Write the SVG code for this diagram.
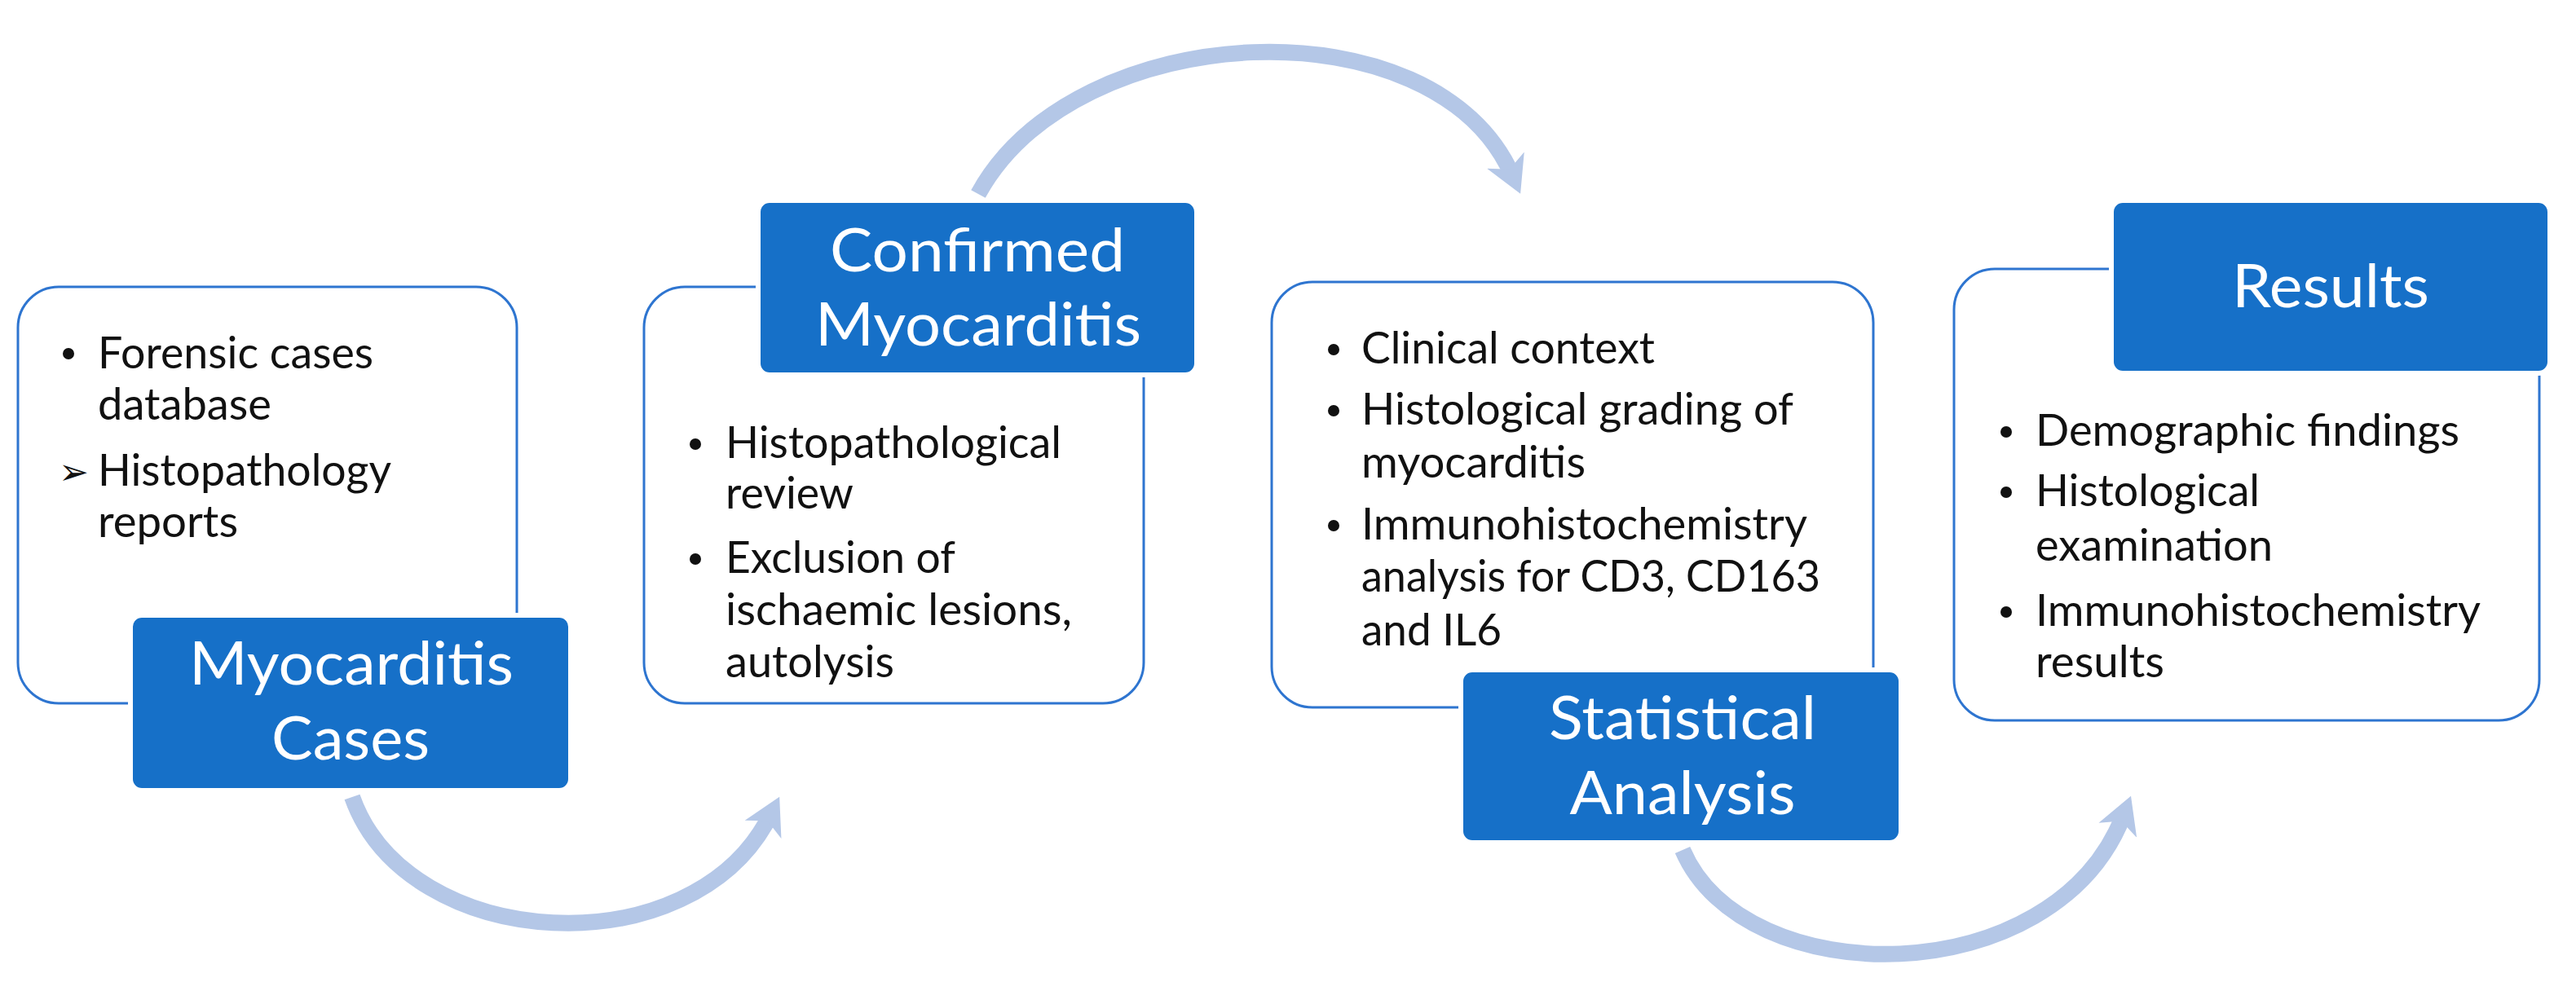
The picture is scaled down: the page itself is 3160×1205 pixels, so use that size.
<svg xmlns="http://www.w3.org/2000/svg" width="3160" height="1205" viewBox="0 0 3160 1205">
<style>
.card{fill:#fff;stroke:#2E75D0;stroke-width:3}
.hdr{fill:#1670C8;stroke:#fff;stroke-width:6}
.ht{font-family:Lato,"Liberation Sans",sans-serif;font-size:74px;fill:#fff;text-anchor:middle}
.bt{font-family:Lato,"Liberation Sans",sans-serif;font-size:54px;fill:#111}
.dot{fill:#111}
.arc{fill:none;stroke:#B4C7E7;stroke-width:20}
</style>
<defs>
<marker id="ah" markerUnits="userSpaceOnUse" markerWidth="60" markerHeight="60" refX="20" refY="25" orient="auto" viewBox="0 0 60 50">
<path d="M0,0 L45,25 L0,50 L12,25 Z" fill="#B4C7E7"/>
</marker>
</defs>
<g id="connectors">
<path class="arc" d="M432,978 C500,1170 850,1190 945,1000" marker-end="url(#ah)"/>
<path class="arc" d="M1200,238 C1320,20 1760,0 1855,215" marker-end="url(#ah)"/>
<path class="arc" d="M2064,1043 C2140,1220 2520,1220 2605,1000" marker-end="url(#ah)"/>
</g>
<g id="n1">
<rect class="card" x="22" y="352" width="612" height="511" rx="50"/>
<circle class="dot" cx="84" cy="434" r="7"/>
<text class="bt" x="120" y="452" textLength="338" lengthAdjust="spacingAndGlyphs">Forensic cases</text>
<text class="bt" x="120" y="515" textLength="213" lengthAdjust="spacingAndGlyphs">database</text>
<text x="72" y="594" style="font-family:'DejaVu Sans',sans-serif;font-size:44px;fill:#111">➢</text>
<text class="bt" x="120" y="596" textLength="360" lengthAdjust="spacingAndGlyphs">Histopathology</text>
<text class="bt" x="120" y="659" textLength="172" lengthAdjust="spacingAndGlyphs">reports</text>
<rect class="hdr" x="160" y="755" width="540" height="215" rx="14"/>
<text class="ht" x="431" y="840" textLength="398" lengthAdjust="spacingAndGlyphs">Myocarditis</text>
<text class="ht" x="430" y="932" textLength="194" lengthAdjust="spacingAndGlyphs">Cases</text>
</g>
<g id="n2">
<rect class="card" x="790" y="352" width="613" height="511" rx="50"/>
<rect class="hdr" x="930" y="246" width="538" height="214" rx="14"/>
<text class="ht" x="1199" y="333" textLength="362" lengthAdjust="spacingAndGlyphs">Confirmed</text>
<text class="ht" x="1200" y="424" textLength="400" lengthAdjust="spacingAndGlyphs">Myocarditis</text>
<circle class="dot" cx="853" cy="545" r="7"/>
<text class="bt" x="890" y="562" textLength="412" lengthAdjust="spacingAndGlyphs">Histopathological</text>
<text class="bt" x="890" y="624" textLength="157" lengthAdjust="spacingAndGlyphs">review</text>
<circle class="dot" cx="853" cy="686" r="7"/>
<text class="bt" x="890" y="703" textLength="282" lengthAdjust="spacingAndGlyphs">Exclusion of</text>
<text class="bt" x="890" y="767" textLength="425" lengthAdjust="spacingAndGlyphs">ischaemic lesions,</text>
<text class="bt" x="890" y="831" textLength="207" lengthAdjust="spacingAndGlyphs">autolysis</text>
</g>
<g id="n3">
<rect class="card" x="1560" y="346" width="738" height="522" rx="50"/>
<circle class="dot" cx="1636" cy="429" r="7"/>
<text class="bt" x="1670" y="446" textLength="360" lengthAdjust="spacingAndGlyphs">Clinical context</text>
<circle class="dot" cx="1636" cy="504" r="7"/>
<text class="bt" x="1670" y="521" textLength="530" lengthAdjust="spacingAndGlyphs">Histological grading of</text>
<text class="bt" x="1670" y="586" textLength="275" lengthAdjust="spacingAndGlyphs">myocarditis</text>
<circle class="dot" cx="1636" cy="645" r="7"/>
<text class="bt" x="1670" y="662" textLength="547" lengthAdjust="spacingAndGlyphs">Immunohistochemistry</text>
<text class="bt" x="1670" y="726" textLength="563" lengthAdjust="spacingAndGlyphs">analysis for CD3, CD163</text>
<text class="bt" x="1670" y="792" textLength="172" lengthAdjust="spacingAndGlyphs">and IL6</text>
<rect class="hdr" x="1792" y="822" width="540" height="212" rx="14"/>
<text class="ht" x="2064" y="907" textLength="328" lengthAdjust="spacingAndGlyphs">Statistical</text>
<text class="ht" x="2064" y="999" textLength="277" lengthAdjust="spacingAndGlyphs">Analysis</text>
</g>
<g id="n4">
<rect class="card" x="2397" y="330" width="718" height="554" rx="50"/>
<rect class="hdr" x="2590" y="246" width="538" height="212" rx="14"/>
<text class="ht" x="2859" y="377" textLength="242" lengthAdjust="spacingAndGlyphs">Results</text>
<circle class="dot" cx="2461" cy="530" r="7"/>
<text class="bt" x="2497" y="547" textLength="520" lengthAdjust="spacingAndGlyphs">Demographic findings</text>
<circle class="dot" cx="2461" cy="604" r="7"/>
<text class="bt" x="2497" y="621" textLength="275" lengthAdjust="spacingAndGlyphs">Histological</text>
<text class="bt" x="2497" y="688" textLength="291" lengthAdjust="spacingAndGlyphs">examination</text>
<circle class="dot" cx="2461" cy="751" r="7"/>
<text class="bt" x="2497" y="768" textLength="546" lengthAdjust="spacingAndGlyphs">Immunohistochemistry</text>
<text class="bt" x="2497" y="831" textLength="158" lengthAdjust="spacingAndGlyphs">results</text>
</g>
</svg>
